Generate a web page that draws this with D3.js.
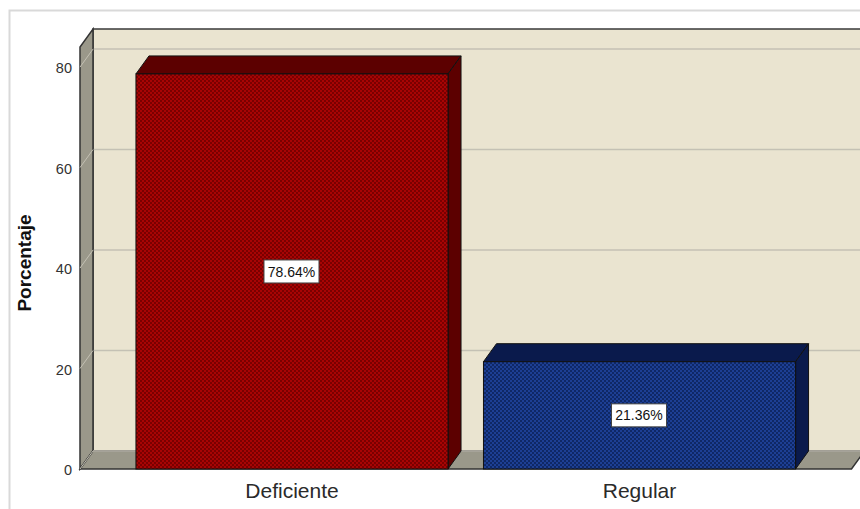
<!DOCTYPE html>
<html>
<head>
<meta charset="utf-8">
<script src="https://cdn.jsdelivr.net/npm/d3@7"></script>
<style>
  html, body { margin: 0; padding: 0; background: #fff; }
  svg { display: block; font-family: "Liberation Sans", Arial, sans-serif; }
</style>
</head>
<body>
<svg id="chart" width="860" height="509"></svg>
<script>
// Data
const categories = ["Deficiente", "Regular"];
const percentages = [78.64, 21.36];
const yTicks = [0, 20, 40, 60, 80];
const yTitle = "Porcentaje";

const svg = d3.select("#chart");
const W = 860, H = 509;

// 3D depth offset of the chart box
const DX = 13, DY = -18;

const y = d3.scaleLinear().domain([0, 84]).range([469, 47]);
const x = d3.scaleBand().domain(categories).range([80, 851.5])
  .paddingInner(0.102).paddingOuter(0.161);

const y0 = y(0), yTop = y(84);
const xLeft = 80, xRight = 851.5;

// patterns for bar fronts
const defs = svg.append("defs");
function dotPattern(id, base, dot) {
  const p = defs.append("pattern").attr("id", id)
    .attr("patternUnits", "userSpaceOnUse").attr("width", 4).attr("height", 4);
  p.append("rect").attr("width", 4).attr("height", 4).attr("fill", base);
  p.append("rect").attr("x", 0).attr("y", 0).attr("width", 2).attr("height", 2).attr("fill", dot);
  p.append("rect").attr("x", 2).attr("y", 2).attr("width", 2).attr("height", 2).attr("fill", dot);
}
dotPattern("patRed", "#a80404", "#7a0000");
dotPattern("patBlue", "#1d3f94", "#0f2866");
const styles = [
  { front: "url(#patRed)", top: "#5c0000", side: "#5c0000" },
  { front: "url(#patBlue)", top: "#0a1a4c", side: "#0a1a4c" }
];

// outer frame
svg.append("rect").attr("x", 9.5).attr("y", 10.5).attr("width", W).attr("height", H)
  .attr("fill", "#fff").attr("stroke", "#d9d9d9").attr("stroke-width", 2);

// back wall
svg.append("rect")
  .attr("x", xLeft + DX).attr("y", yTop + DY)
  .attr("width", W).attr("height", y0 - yTop)
  .attr("fill", "#eae4d0").attr("stroke", "#3a3a3a").attr("stroke-width", 1.5);

// gridlines on back wall
svg.append("g").selectAll("line").data(yTicks.filter(d => d > 0)).join("line")
  .attr("x1", xLeft + DX).attr("x2", W)
  .attr("y1", d => y(d) + DY).attr("y2", d => y(d) + DY)
  .attr("stroke", "#c4c1b4").attr("stroke-width", 1.5);

// left side wall
const line = d3.line();
svg.append("path")
  .attr("d", line([[xLeft, y0], [xLeft, yTop], [xLeft + DX, yTop + DY], [xLeft + DX, y0 + DY]]) + "Z")
  .attr("fill", "#9a988a").attr("stroke", "#333").attr("stroke-width", 1.5);

// diagonal gridlines on side wall
svg.append("g").selectAll("line").data(yTicks).join("line")
  .attr("x1", xLeft).attr("x2", xLeft + DX)
  .attr("y1", d => y(d)).attr("y2", d => y(d) + DY)
  .attr("stroke", "#c4c1b4").attr("stroke-width", 1);

// floor
svg.append("path")
  .attr("d", line([[xLeft, y0], [xLeft + DX, y0 + DY], [xRight + DX, y0 + DY], [xRight, y0]]) + "Z")
  .attr("fill", "#9a988a").attr("stroke", "#333").attr("stroke-width", 1.5);
svg.append("line").attr("x1", xLeft + DX).attr("x2", W).attr("y1", y0 + DY).attr("y2", y0 + DY)
  .attr("stroke", "#c4c1b4").attr("stroke-width", 1.5);
svg.append("line").attr("x1", xLeft).attr("x2", xLeft + DX).attr("y1", y0).attr("y2", y0 + DY)
  .attr("stroke", "#c4c1b4").attr("stroke-width", 1);

// bars
const bars = svg.append("g").selectAll("g").data(categories).join("g");
bars.each(function (c, i) {
  const g = d3.select(this);
  const x0 = x(c), x1 = x(c) + x.bandwidth();
  const yt = y(percentages[i]);
  const st = styles[i];
  // top face
  g.append("path")
    .attr("d", line([[x0, yt], [x0 + DX, yt + DY], [x1 + DX, yt + DY], [x1, yt]]) + "Z")
    .attr("fill", st.top).attr("stroke", "#111").attr("stroke-width", 1);
  // right side face
  g.append("path")
    .attr("d", line([[x1, yt], [x1 + DX, yt + DY], [x1 + DX, y0 + DY], [x1, y0]]) + "Z")
    .attr("fill", st.side).attr("stroke", "#111").attr("stroke-width", 1);
  // front face
  g.append("rect").attr("x", x0).attr("y", yt).attr("width", x1 - x0).attr("height", y0 - yt)
    .attr("fill", st.front).attr("stroke", "#111").attr("stroke-width", 1);
});

// value labels
const labels = svg.append("g").selectAll("g").data(categories).join("g")
  .attr("transform", (c, i) => `translate(${x(c) + x.bandwidth() / 2},${(y(percentages[i]) + y0) / 2})`);
labels.append("rect").attr("x", -28).attr("y", -11.5).attr("width", 55).attr("height", 23)
  .attr("fill", "#fff").attr("stroke", "#444").attr("stroke-width", 1);
labels.append("text").attr("x", -0.5).attr("text-anchor", "middle").attr("dy", "0.36em")
  .attr("font-size", 14).attr("fill", "#111")
  .text((c, i) => percentages[i].toFixed(2) + "%");

// y tick labels
svg.append("g").selectAll("text").data(yTicks).join("text")
  .attr("x", 72).attr("y", d => y(d) + 1).attr("dy", "0.36em")
  .attr("text-anchor", "end").attr("font-size", 14.5).attr("fill", "#333")
  .text(d => d);

// category labels
svg.append("g").selectAll("text").data(categories).join("text")
  .attr("x", c => x(c) + x.bandwidth() / 2).attr("y", 498)
  .attr("text-anchor", "middle").attr("font-size", 21).attr("fill", "#2a2a2a")
  .text(c => c);

// y title
svg.append("text")
  .attr("transform", "translate(31,263) rotate(-90)")
  .attr("text-anchor", "middle").attr("font-size", 19).attr("font-weight", "bold").attr("fill", "#111")
  .text(yTitle);
</script>
</body>
</html>
